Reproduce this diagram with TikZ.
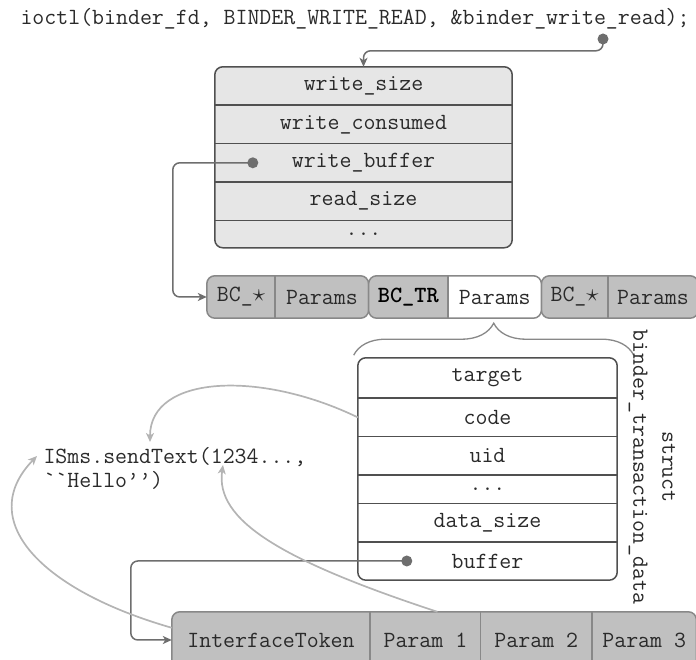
\documentclass[tikz,border=0pt]{standalone}
\usepackage{amsmath, amssymb}
\usepackage{fontspec}
\usepackage{tikz}
\usetikzlibrary{positioning, backgrounds, calc, arrows.meta, decorations.pathreplacing}
\usepackage{xcolor}

\definecolor{boxfill}{HTML}{E6E6E6}
\definecolor{cellfill}{HTML}{C0C0C0}
\definecolor{cellline}{HTML}{888888}
\definecolor{boxline}{HTML}{505050}
\definecolor{wireline}{HTML}{6E6E6E}
\definecolor{softline}{HTML}{B4B4B4}
\definecolor{txt}{HTML}{2A2A2A}

\begin{document}
\begin{tikzpicture}[x=1pt, y=1pt,
    font=\ttfamily\fontsize{23.2}{27}\selectfont, text=txt,
    field/.style={minimum width=297pt, minimum height=38pt, inner sep=0pt},
    tfield/.style={minimum width=259pt, minimum height=38pt, inner sep=0pt},
    cell/.style={minimum height=42pt, inner sep=0pt},
    pcell/.style={minimum height=56pt, inner sep=0pt},
    wire/.style={draw=wireline, line width=1.5pt, rounded corners=7pt,
        -{Stealth[length=9pt, width=8pt, inset=2.5pt]}},
    soft/.style={draw=softline, line width=1.7pt,
        -{Stealth[length=9pt, width=8pt, inset=2.5pt]}},
    dot/.style={circle, fill=wireline, inner sep=0pt, minimum size=11pt}]

    \clip (0,0) rectangle (696,660);

    % The ioctl call
    \node[anchor=west] (call) at (17,641) {ioctl(binder\_fd, BINDER\_WRITE\_READ, \&binder\_write\_read);};

    % binder_write_read fields
    \node[field] (wsize) at (363.5,574) {write\_size};
    \node[field, below=0pt of wsize] (wcons) {write\_consumed};
    \node[field, below=0pt of wcons] (wbuf) {write\_buffer};
    \node[field, below=0pt of wbuf] (rsize) {read\_size};
    \node[field, minimum height=27pt, below=0pt of rsize] (wdots) {...};

    \begin{scope}[on background layer]
        \draw[draw=boxline, fill=boxfill, line width=1.5pt, rounded corners=8pt]
            (wsize.north west) rectangle (wdots.south east);
        \foreach \f in {wsize, wcons, wbuf, rsize} {
            \draw[draw=boxline, line width=1.5pt] (\f.south west) -- (\f.south east);
        }
    \end{scope}

    % Write buffer: commands and their params
    \node[cell, minimum width=68pt] (bca) at (241,363) {BC\_$\star$};
    \node[cell, minimum width=93pt, right=0pt of bca] (pa) {Params};
    \node[cell, minimum width=79pt, right=0pt of pa, text=black] (bctr) {\bfseries BC\_TR};
    \node[cell, minimum width=93pt, right=0pt of bctr] (pb) {Params};
    \node[cell, minimum width=66pt, right=0pt of pb] (bcc) {BC\_$\star$};
    \node[cell, minimum width=90pt, right=0pt of bcc] (pc) {Params};

    \begin{scope}[on background layer]
        % first and last command
        \draw[draw=cellline, fill=cellfill, line width=1.5pt, rounded corners=8pt]
            (bca.north west) rectangle (pa.south east);
        \draw[draw=cellline, fill=cellfill, line width=1.5pt, rounded corners=8pt]
            (bcc.north west) rectangle (pc.south east);
        % the transaction
        \fill[white, rounded corners=8pt] (bctr.north west) rectangle (pb.south east);
        \begin{scope}
            \clip[rounded corners=8pt] (bctr.north west) rectangle (pb.south east);
            \fill[cellfill] (bctr.north west) rectangle (bctr.south east);
        \end{scope}
        \draw[draw=cellline, line width=1.5pt, rounded corners=8pt]
            (bctr.north west) rectangle (pb.south east);
        \foreach \c in {bca, bctr, bcc} {
            \draw[draw=cellline, line width=1.5pt] (\c.north east) -- (\c.south east);
        }
    \end{scope}

    % Brace under the transaction params
    \draw[draw=cellline, line width=1.3pt, decorate, decoration={brace, amplitude=32pt}]
        ($(pb.south)+(-141,-37)$) -- ($(pb.south)+(139,-37)$);

    % binder_transaction_data fields
    \node[tfield, minimum height=40pt] (target) at (487.5,282) {target};
    \node[tfield, below=0pt of target] (code) {code};
    \node[tfield, below=0pt of code] (uid) {uid};
    \node[tfield, minimum height=28pt, below=0pt of uid] (tdots) {...};
    \node[tfield, below=0pt of tdots] (dsize) {data\_size};
    \node[tfield, below=0pt of dsize] (buffer) {buffer};

    \begin{scope}[on background layer]
        \draw[draw=boxline, fill=white, line width=1.5pt, rounded corners=8pt]
            (target.north west) rectangle (buffer.south east);
        \foreach \f in {target, code, uid, tdots, dsize} {
            \draw[draw=boxline, line width=1.5pt] (\f.south west) -- (\f.south east);
        }
    \end{scope}

    \node[rotate=-90, align=center] (tdname) at (652,193) {struct\\[2pt]binder\_transaction\_data};

    % The call in the client
    \node[align=left, anchor=west] (sms) at (40,192) {ISms.sendText(1234...,\\[-3pt]\textasciigrave\textasciigrave Hello’’)};

    % Parcel data
    \node[pcell, minimum width=198pt] (itok) at (271,20) {InterfaceToken};
    \node[pcell, minimum width=110pt, right=0pt of itok] (p1) {Param 1};
    \node[pcell, minimum width=111pt, right=0pt of p1] (p2) {Param 2};
    \node[pcell, minimum width=104pt, right=0pt of p2] (p3) {Param 3};

    \begin{scope}[on background layer]
        \draw[draw=cellline, fill=cellfill, line width=1.5pt, rounded corners=8pt]
            (itok.north west) rectangle (p3.south east);
        \foreach \c in {itok, p1, p2} {
            \draw[draw=cellline, line width=1.5pt] (\c.north east) -- (\c.south east);
        }
    \end{scope}

    % Pointers
    \node[dot] (rdot) at (603,621) {};
    \node[dot] (wdot) at ($(wbuf.west)+(38,0)$) {};
    \node[dot] (bdot) at ($(buffer.west)+(49,0)$) {};

    \draw[wire] (rdot.center) |- ($(wsize.north)+(0,16)$) -- (wsize.north);
    \draw[wire] (wdot.center) -| ($(bca.west)+(-34,0)$) -- (bca.west);
    \draw[wire] (bdot.center) -| ($(itok.west)+(-41,0)$) -- (itok.west);

    % Where the values end up
    \coordinate (smsA) at (150,218);
    \coordinate (smsB) at (37,204);
    \coordinate (smsC) at (223,195);
    \draw[soft] (code.west) .. controls (260,290) and (150,285) .. (smsA);
    \draw[soft] ($(itok.north west)+(0,-16)$) .. controls (40,70) and (-25,140) .. (smsB);
    \draw[soft] ($(p1.north)+(12,0)$) .. controls (280,100) and (215,140) .. (smsC);
\end{tikzpicture}
\end{document}
